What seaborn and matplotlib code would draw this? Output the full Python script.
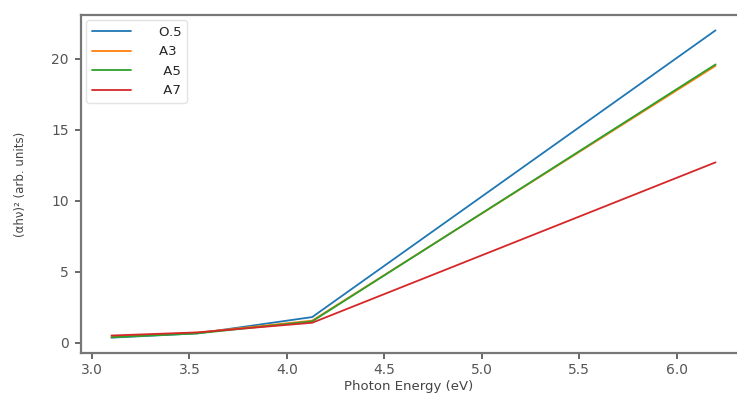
import numpy as np
import pandas as pd
import seaborn as sns
import matplotlib
matplotlib.use("Agg")
import matplotlib.pyplot as plt

energy = [3.1, 3.54, 4.13, 6.2]
labels = ["O.5", "A3", "A5", "A7"]
vals_o5 = [0.35, 0.65, 1.8, 22.0]
vals_a3 = [0.40, 0.70, 1.55, 19.5]
vals_a5 = [0.38, 0.65, 1.5, 19.6]
vals_a7 = [0.50, 0.72, 1.40, 12.7]
series = [vals_o5, vals_a3, vals_a5, vals_a7]

rows = []
for lab, vals in zip(labels, series):
    for e, v in zip(energy, vals):
        rows.append({"Energy": e, "Value": v, "Sample": lab})
df = pd.DataFrame(rows)

sns.set_theme(style="ticks")
plt.rcParams['font.family'] = ['DejaVu Sans']

fig = plt.figure(figsize=(7.37, 3.94), dpi=100)
ax = fig.add_axes([0.110, 0.104, 0.890, 0.858])
sns.lineplot(data=df, x="Energy", y="Value", hue="Sample", palette="tab10",
             ax=ax, linewidth=1.3, legend=True)

ax.set_xlim(2.944, 6.31)
ax.set_xticks([3.0, 3.5, 4.0, 4.5, 5.0, 5.5, 6.0])
ax.set_yticks([0, 5, 10, 15, 20])
ax.tick_params(labelsize=10, colors="#555555", length=4)
ax.tick_params(axis="x", pad=3)
ax.tick_params(axis="y", pad=5)
for s in ax.spines.values():
    s.set_color("#777777")
    s.set_linewidth(1.6)
ax.spines["right"].set_visible(False)
ax.set_xlabel("Photon Energy (eV)", fontsize=9.5, color="#444444")
ax.xaxis.set_label_coords(0.5, -0.081)
ax.set_ylabel("(αhν)² (arb. units)", fontsize=8.5, color="#444444")
ax.yaxis.set_label_coords(-0.083, 0.5)

handles, _ = ax.get_legend_handles_labels()
ax.legend(handles, ["    O.5", "    A3", "     A5", "     A7"],
          loc="upper left", fontsize=9.5, frameon=True, handlelength=3.0,
          borderaxespad=0.4, labelspacing=0.5, framealpha=0.8,
          edgecolor="#dddddd")

fig.savefig("out.png", dpi=100)
